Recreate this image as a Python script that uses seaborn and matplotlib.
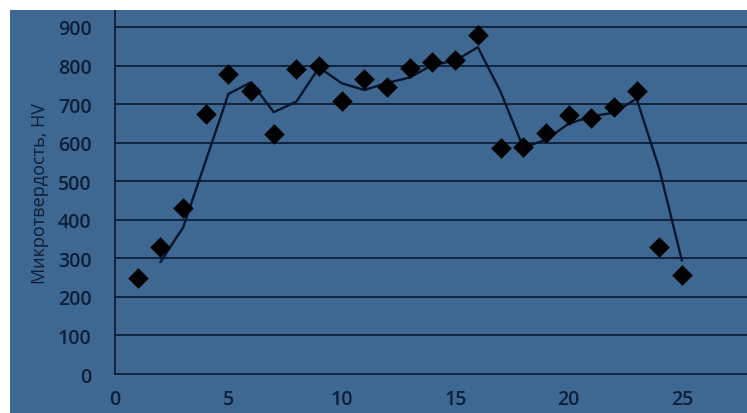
import numpy as np
import pandas as pd
import matplotlib
matplotlib.use('Agg')
import matplotlib.pyplot as plt
import seaborn as sns
from matplotlib.patches import Rectangle

# Measured microhardness values (point number -> HV)
points = list(range(1, 26))
hardness = [250, 330, 430, 675, 778, 735, 623, 790, 800, 708,
            765, 745, 793, 810, 815, 880, 585, 590, 625, 673,
            663, 693, 735, 330, 258]
x_ticks = [0, 5, 10, 15, 20, 25]
y_ticks = [0, 100, 200, 300, 400, 500, 600, 700, 800, 900]

df = pd.DataFrame({'n': points, 'hv': hardness})
# Excel-style 2-period moving average trendline
df['trend'] = df['hv'].rolling(2).mean()

bg = '#3e6891'
ink = '#0c1f38'

sns.set_theme(style='white')
plt.rcParams['font.family'] = ['Open Sans', 'DejaVu Sans']

fig = plt.figure(figsize=(7.47, 4.14), dpi=100, facecolor=bg)
ax = fig.add_axes([0.154, 0.0942, 0.846, 0.8792])
ax.set_facecolor(bg)

# grid lines
for v in y_ticks[1:]:
    ax.axhline(v, color=ink, lw=1.3, zorder=1)

sns.lineplot(data=df, x='n', y='trend', color='#08152a', lw=1.7, ax=ax, zorder=3)
sns.scatterplot(data=df, x='n', y='hv', marker='D', s=110, color='black',
                edgecolor='black', linewidth=0, ax=ax, zorder=4)

ax.set_xlim(0, 27.87)
ax.set_ylim(0, 944)
ax.set_xticks(x_ticks)
ax.set_yticks(y_ticks)
ax.tick_params(axis='both', length=0, labelsize=14, labelcolor=ink)
ax.tick_params(axis='y', pad=17)
ax.tick_params(axis='x', pad=11)
for lab in ax.get_xticklabels() + ax.get_yticklabels():
    lab.set_fontweight('semibold')
ax.set_xlabel('')
ax.set_ylabel('Микротвердость, HV', fontsize=13, color=ink, labelpad=6)

for side in ['top', 'right']:
    ax.spines[side].set_visible(False)
for side in ['left', 'bottom']:
    ax.spines[side].set_color(ink)
    ax.spines[side].set_linewidth(1.3)

# white paper edge of the photo
fig.patches.append(Rectangle((0, 0.9734), 1, 0.03, transform=fig.transFigure,
                             facecolor='white', edgecolor='none', zorder=10))
fig.patches.append(Rectangle((0, 0), 0.0134, 1, transform=fig.transFigure,
                             facecolor='white', edgecolor='none', zorder=10))

fig.savefig('out.png', dpi=100, facecolor=bg)
